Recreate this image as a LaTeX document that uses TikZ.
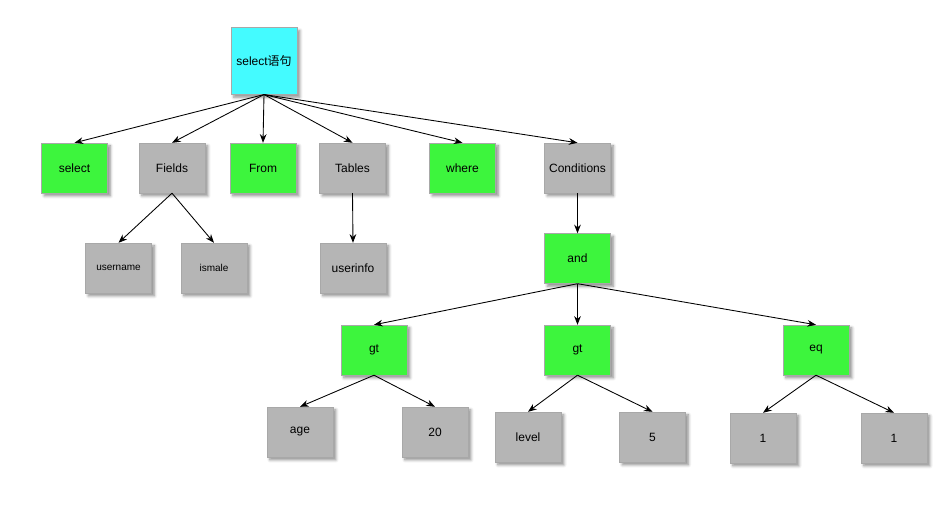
\documentclass[tikz,border=0pt]{standalone}
\usepackage{fontspec}
\setmainfont{Liberation Sans}
\newfontfamily\cjk{Noto Sans CJK SC}
\usetikzlibrary{arrows.meta, positioning, shadows.blur}
\definecolor{rootcyan}{HTML}{44FBFF}
\definecolor{kwgreen}{HTML}{3DF53D}
\definecolor{termgray}{HTML}{B5B5B5}
\definecolor{edgegray}{HTML}{A8A8A8}

\begin{document}
\begin{tikzpicture}[
    x=0.75pt, y=-0.75pt,
    box/.style={draw=edgegray, line width=0.3pt, minimum width=49.5pt, minimum height=37.5pt,
      inner sep=1pt, fill=#1, font=\fontsize{9}{10}\selectfont,
      blur shadow={shadow xshift=2.2pt, shadow yshift=-2.2pt, shadow blur steps=6, shadow opacity=45}},
    small/.style={font=\fontsize{7.5}{8}\selectfont},
    arrow/.style={-{Stealth[length=6.5pt, width=5pt]}, line width=0.65pt, draw=black}
]
\useasboundingbox (0,0) rectangle (946,509);

% Root
\node[box=rootcyan, minimum height=50pt] (root) at (264,61) {select{\cjk 语句}};

% Statement parts
\node[box=kwgreen] (sel) at (74.5,168) {select};
\node[box=termgray] (fields) at (172,168) {Fields};
\node[box=kwgreen] (from) at (263,168) {From};
\node[box=termgray] (tables) at (352.5,168) {Tables};
\node[box=kwgreen] (where) at (462.5,168) {where};
\node[box=termgray] (conds) at (577.5,168) {Conditions};

% Fields / Tables
\node[box=termgray, small] (uname) at (118.5,268) {username};
\node[box=termgray, small] (ismale) at (214,268) {ismale};
\node[box=termgray] (uinfo) at (353,268) {userinfo};

% Conditions
\node[box=kwgreen] (and) at (577.5,258.5) {and};
\node[box=kwgreen] (gtA) at (374,350) {gt};
\node[box=kwgreen] (gtB) at (577.5,350) {gt};
\node[box=kwgreen] (eq) at (816,350) {eq};

\node[box=termgray] (age) at (300,432) {age};
\node[box=termgray] (twenty) at (435,432) {20};
\node[box=termgray] (level) at (528,437) {level};
\node[box=termgray] (five) at (652.5,437) {5};
\node[box=termgray] (oneA) at (763,438) {1};
\node[box=termgray] (oneB) at (894,438) {1};

% Root arrows
\foreach \n in {sel, fields, from, tables, where, conds}
  \draw[arrow] (root.south) -- (\n.north);

\draw[arrow] (fields.south) -- (uname.north);
\draw[arrow] (fields.south) -- (ismale.north);
\draw[arrow] (tables.south) -- (uinfo.north);
\draw[arrow] (conds.south) -- (and.north);

\foreach \n in {gtA, gtB, eq}
  \draw[arrow] (and.south) -- (\n.north);

\draw[arrow] (gtA.south) -- (age.north);
\draw[arrow] (gtA.south) -- (twenty.north);
\draw[arrow] (gtB.south) -- (level.north);
\draw[arrow] (gtB.south) -- (five.north);
\draw[arrow] (eq.south) -- (oneA.north);
\draw[arrow] (eq.south) -- (oneB.north);

\end{tikzpicture}
\end{document}
